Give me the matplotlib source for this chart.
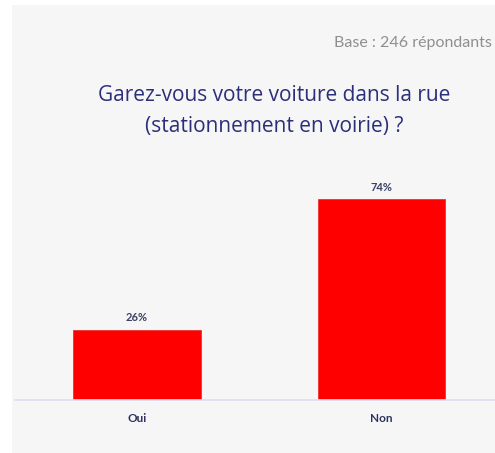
import matplotlib
matplotlib.use("Agg")
import matplotlib.pyplot as plt
from matplotlib.patches import Rectangle

categories = ["Oui", "Non"]
values = [26, 74]
title = "Garez-vous votre voiture dans la rue\n(stationnement en voirie) ?"
base_note = "Base : 246 répondants"

W, H = 495, 453
fig = plt.figure(figsize=(W / 100, H / 100), dpi=100)
fig.patch.set_facecolor("white")

# light grey panel behind the chart
fig.patches.append(Rectangle((12 / W, 0), 1 - 12 / W, 1 - 5 / H,
                             transform=fig.transFigure, facecolor="#f6f6f6",
                             edgecolor="none", zorder=-10))

ax = fig.add_axes([15 / W, 1 - 400 / H, 480 / W, 271 / H])
ax.set_facecolor("none")
ax.set_zorder(5)

x = list(range(len(categories)))
bars = ax.bar(x, values, width=0.523, color="#ff0000", edgecolor="#f03030", linewidth=0.6)
ax.set_xlim(-0.499, 1.464)
ax.set_ylim(0, 100)

for b, v in zip(bars, values):
    ax.annotate(f"{v}%", (b.get_x() + b.get_width() / 2, v), xytext=(0, 5),
                textcoords="offset points", ha="center", va="bottom",
                fontsize=8, fontweight="bold", color="#3b3f66", family="Lato")

ax.set_xticks(x)
ax.set_xticklabels(categories, fontsize=8.5, color="#2e3260", family="Lato", fontweight="bold")
ax.tick_params(axis="x", length=0, pad=9)
ax.set_yticks([])
for s in ["top", "right", "left"]:
    ax.spines[s].set_visible(False)
ax.spines["bottom"].set_color("#dcdff2")
ax.spines["bottom"].set_linewidth(1.2)

fig.text(492 / W, 1 - 43 / H, base_note, ha="right", va="center",
         fontsize=11.5, color="#8f8f8f", family="Lato", zorder=6)
fig.text(274 / W, 1 - 111 / H, title, ha="center", va="center",
         fontsize=15, color="#2b2f78", family="Open Sans", linespacing=1.6, zorder=6)

fig.savefig("out.png", dpi=100, facecolor=fig.get_facecolor())
